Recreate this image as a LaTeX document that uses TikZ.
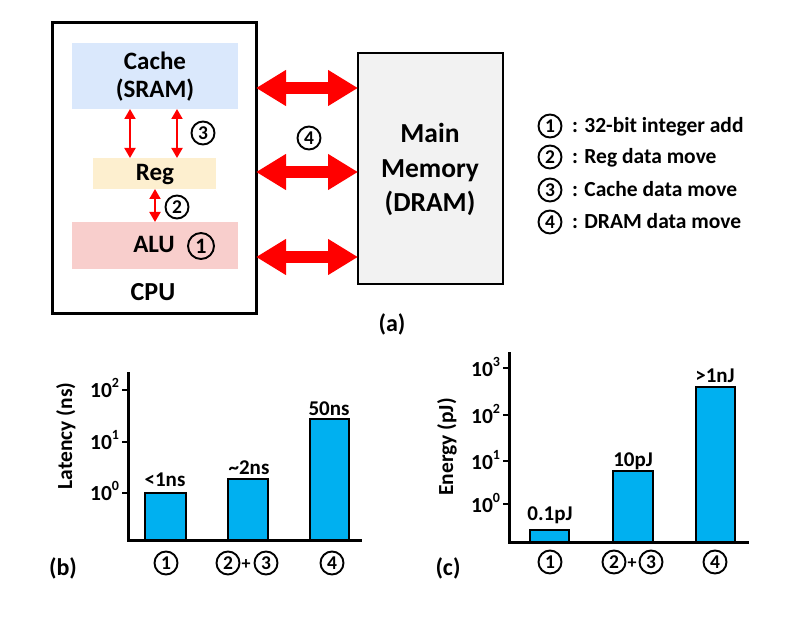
\documentclass[tikz,border=0pt]{standalone}
\usepackage{fontspec}
\setmainfont{Carlito}
\usetikzlibrary{arrows.meta}
\definecolor{cachec}{HTML}{DAE8FC}
\definecolor{regc}{HTML}{FDEFCF}
\definecolor{aluc}{HTML}{F8CECC}
\definecolor{memc}{HTML}{F2F2F2}
\definecolor{barc}{HTML}{00B0F0}
\newcommand{\fsz}[2]{\fontsize{#1}{#2}\selectfont\bfseries}
\newcommand{\tenp}[1]{10\raisebox{10pt}{\fontsize{14}{14}\selectfont #1}}
\begin{document}
\begin{tikzpicture}[x=1pt,y=-1pt,
  every node/.style={inner sep=0pt, outer sep=0pt},
  boxn/.style={rectangle, draw=none},
  cnum/.style={circle, draw, line width=1.9pt, minimum size=23pt, inner sep=0pt, font=\fsz{19.5}{19.5}},
  txt/.style={font=\fsz{25}{28}, anchor=base},
  lgd/.style={font=\fsz{21.5}{24}, anchor=base west},
  lbl/.style={font=\fsz{21}{24}, anchor=base},
  tick/.style={font=\fsz{21.5}{24}, anchor=base east},
  axl/.style={font=\fsz{21.5}{24}, anchor=base, rotate=90},
  bigarr/.style={red, line width=12pt, {Triangle[length=30pt,width=34pt]}-{Triangle[length=30pt,width=34pt]}},
  smarr/.style={red, line width=2pt, {Triangle[length=10pt,width=11pt]}-{Triangle[length=10pt,width=11pt]}},
  axis/.style={line width=3pt, line cap=rect},
  tk/.style={line width=2pt},
  bar/.style={fill=barc, draw=black, line width=2pt}]
\useasboundingbox (0,0) rectangle (800,620);
% (a) block diagram
\node[boxn, draw=black, line width=3pt, minimum width=204pt, minimum height=290pt] (cpu) at (154,168) {};
\node[boxn, fill=cachec, minimum width=166pt, minimum height=66pt] (cache) at (155,76) {};
\node[boxn, fill=regc, minimum width=123pt, minimum height=31pt] (reg) at (154.5,173.5) {};
\node[boxn, fill=aluc, minimum width=166pt, minimum height=47pt] (alu) at (155,245.5) {};
\node[boxn, draw=black, fill=memc, line width=2pt, minimum width=145pt, minimum height=231pt] (mem) at (430.5,168.5) {};
\node[txt] (tcache) at (155,70) {Cache};
\node[txt] (tsram) at (155,98) {(SRAM)};
\node[txt] (treg) at (155,181) {Reg};
\node[txt] (talu) at (154,253) {ALU};
\node[cnum, minimum size=26pt, font=\fsz{22}{22}] (c1a) at (201,246) {1};
\node[txt, font=\fsz{26}{28}] (tcpu) at (153,300) {CPU};
\node[txt, font=\fsz{27.5}{30}] (tm1) at (430,143) {Main};
\node[txt, font=\fsz{27.5}{30}] (tm2) at (430,178) {Memory};
\node[txt, font=\fsz{27.5}{30}] (tm3) at (430,212) {(DRAM)};
\node[cnum] (c3a) at (203,133) {3};
\node[cnum] (c2a) at (177,207) {2};
\node[cnum] (c4a) at (309,138) {4};
\coordinate (s1) at (130,0);
\coordinate (s2) at (177,0);
\coordinate (s3) at (155,0);
\draw[smarr] (s1 |- cache.south) -- (s1 |- reg.north);
\draw[smarr] (s2 |- cache.south) -- (s2 |- reg.north);
\draw[smarr] (s3 |- reg.south) -- (s3 |- alu.north);
\coordinate (y1) at (0,88);
\coordinate (y2) at (0,172);
\coordinate (y3) at (0,257);
\draw[bigarr] (cpu.east |- y1) -- (mem.west |- y1);
\draw[bigarr] (cpu.east |- y2) -- (mem.west |- y2);
\draw[bigarr] (cpu.east |- y3) -- (mem.west |- y3);
% legend
\node[cnum] (l1) at (550,126) {1};
\node[lgd] (lt1) at (572,133) {: 32-bit integer add};
\node[cnum] (l2) at (550,157) {2};
\node[lgd] (lt2) at (572,164) {: Reg data move};
\node[cnum] (l3) at (550,190) {3};
\node[lgd] (lt3) at (572,197) {: Cache data move};
\node[cnum] (l4) at (550,222) {4};
\node[lgd] (lt4) at (572,229) {: DRAM data move};
\node[txt, font=\fsz{24}{28}] (la) at (392,331) {(a)};
% (b) latency chart
\draw[bar] (145,540) rectangle (186,493);
\draw[bar] (228,540) rectangle (268,479);
\draw[bar] (310,540) rectangle (349,419);
\draw[axis] (128,373) -- (128,540) -- (360,540);
\draw[tk] (122,390) -- (128,390);
\draw[tk] (122,442) -- (128,442);
\draw[tk] (122,493) -- (128,493);
\node[tick] (b2) at (119,397) {\tenp{2}};
\node[tick] (b1) at (119,449) {\tenp{1}};
\node[tick] (b0) at (119,500) {\tenp{0}};
\node[lbl] (bl1) at (165,486) {<1ns};
\node[lbl] (bl2) at (249,474) {\textasciitilde2ns};
\node[lbl] (bl3) at (329,415) {50ns};
\node[cnum] (bc1) at (166,563) {1};
\node[cnum] (bc2) at (228,563) {2};
\node[lbl, font=\fsz{18}{20}] (bplus) at (246,569) {+};
\node[cnum] (bc3) at (266,563) {3};
\node[cnum] (bc4) at (332,563) {4};
\node[axl] (blab) at (72,436) {Latency (ns)};
\node[txt, font=\fsz{24}{28}] (lb) at (63,575) {(b)};
% (c) energy chart
\draw[bar] (530,542) rectangle (569,530);
\draw[bar] (613,542) rectangle (653,471);
\draw[bar] (696,542) rectangle (735,387);
\draw[axis] (509,353) -- (509,542) -- (747,542);
\draw[tk] (503,368) -- (509,368);
\draw[tk] (503,415) -- (509,415);
\draw[tk] (503,461) -- (509,461);
\draw[tk] (503,504) -- (509,504);
\node[tick] (e3) at (500,376) {\tenp{3}};
\node[tick] (e2) at (500,423) {\tenp{2}};
\node[tick] (e1) at (500,469) {\tenp{1}};
\node[tick] (e0) at (500,512) {\tenp{0}};
\node[lbl] (el1) at (550,520) {0.1pJ};
\node[lbl] (el2) at (633,466) {10pJ};
\node[lbl] (el3) at (715,382) {>1nJ};
\node[cnum] (ec1) at (550,562) {1};
\node[cnum] (ec2) at (614,562) {2};
\node[lbl, font=\fsz{18}{20}] (eplus) at (632,568) {+};
\node[cnum] (ec3) at (651,562) {3};
\node[cnum] (ec4) at (715,562) {4};
\node[axl] (elab) at (453,447) {Energy (pJ)};
\node[txt, font=\fsz{24}{28}] (lc) at (448,575) {(c)};
\end{tikzpicture}
\end{document}
